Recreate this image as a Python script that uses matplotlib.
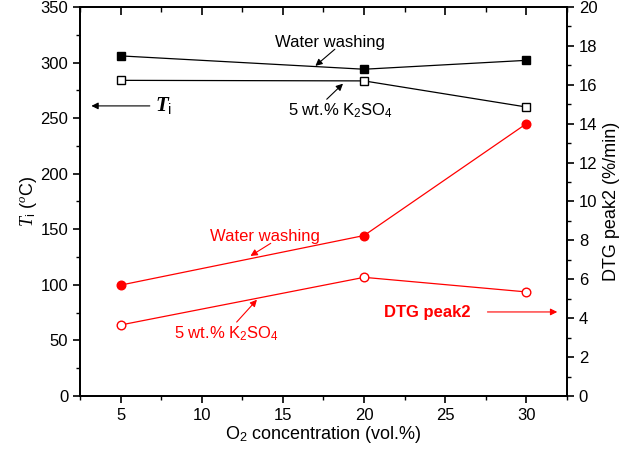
import matplotlib.pyplot as plt
from matplotlib.ticker import MultipleLocator

plt.rcParams['font.family'] = ['Liberation Sans', 'DejaVu Sans']
plt.rcParams['mathtext.fontset'] = 'custom'
plt.rcParams['mathtext.rm'] = 'Liberation Sans'
plt.rcParams['mathtext.it'] = 'Liberation Serif:italic'
plt.rcParams['mathtext.bf'] = 'Liberation Serif:bold:italic'

# data
o2 = [5, 20, 30]
ti_water = [306, 294, 302]
ti_k2so4 = [284, 283.5, 260]
dtg_water = [5.7, 8.25, 14.0]
dtg_k2so4 = [3.65, 6.1, 5.35]

fig = plt.figure(figsize=(6.38, 4.54), dpi=100)
ax = fig.add_axes([0.1254, 0.1278, 0.7633, 0.8568])
ax2 = ax.twinx()

ax.plot(o2, ti_water, color='black', lw=0.9, marker='s', ms=5.8,
        mfc='black', mec='black')
ax.plot(o2, ti_k2so4, color='black', lw=0.9, marker='s', ms=5.8,
        mfc='white', mec='black', mew=1.0)
ax2.plot(o2, dtg_water, color='red', lw=0.9, marker='o', ms=6.2,
         mfc='red', mec='red')
ax2.plot(o2, dtg_k2so4, color='red', lw=0.9, marker='o', ms=6.2,
         mfc='white', mec='red', mew=1.0)

ax.set_xlim(2.5, 32.5)
ax.set_ylim(0, 350)
ax2.set_ylim(0, 20)

ax.xaxis.set_major_locator(MultipleLocator(5))
ax.xaxis.set_minor_locator(MultipleLocator(2.5))
ax.yaxis.set_major_locator(MultipleLocator(50))
ax.yaxis.set_minor_locator(MultipleLocator(25))
ax2.yaxis.set_major_locator(MultipleLocator(2))
ax2.yaxis.set_minor_locator(MultipleLocator(1))

for a in (ax, ax2):
    a.tick_params(which='both', direction='out')
    a.tick_params(which='major', length=5, width=1.2, labelsize=12)
    a.tick_params(which='minor', length=3, width=1.0)
    for s in a.spines.values():
        s.set_linewidth(1.3)

# top ticks pointing inward, from a separate top axis drawn above the rest
ax3 = fig.add_axes(ax.get_position(), frameon=False)
ax3.set_zorder(10)
ax3.set_xlim(2.5, 32.5)
ax3.xaxis.tick_top()
ax3.set_yticks([])
ax3.xaxis.set_major_locator(MultipleLocator(5))
ax3.xaxis.set_minor_locator(MultipleLocator(2.5))
ax3.tick_params(axis='x', which='both', direction='in', labeltop=False,
                color='black')
ax3.tick_params(axis='x', which='major', length=6, width=1.2)
ax3.tick_params(axis='x', which='minor', length=3.5, width=1.0)

ax.set_xlabel('O$_2$ concentration (vol.%)', fontsize=13, labelpad=1)
ax.set_ylabel(r'$\mathit{T}_\mathrm{i}$ ($^o$C)', fontsize=13, labelpad=1)
ax2.set_ylabel('DTG peak2 (%/min)', fontsize=13, labelpad=4)


def arrow(a, tail, head, color):
    a.annotate('', xy=head, xytext=tail,
               arrowprops=dict(arrowstyle='-|>', color=color, lw=0.8,
                               mutation_scale=10, shrinkA=0, shrinkB=0))


# black labels (left axis)
ax.text(17.9, 318.5, 'Water washing', fontsize=12, ha='center', va='center')
arrow(ax, (18.2, 312), (17.0, 297), 'black')
ax.text(18.55, 257, '5 wt.% K$_2$SO$_4$', fontsize=12, ha='center', va='center')
arrow(ax, (17.7, 267), (18.7, 281), 'black')
ax.text(7.65, 261, r'$\mathbf{T}_\mathrm{i}$', fontsize=15, ha='center', va='center')
arrow(ax, (6.8, 261), (3.2, 261), 'black')

# red labels (right axis)
ax2.text(13.9, 8.2, 'Water washing', fontsize=12, color='red',
         ha='center', va='center')
arrow(ax2, (14.25, 7.85), (13.0, 7.2), 'red')
ax2.text(11.5, 3.2, '5 wt.% K$_2$SO$_4$', fontsize=12, color='red',
         ha='center', va='center')
arrow(ax2, (12.15, 3.8), (13.4, 4.95), 'red')
ax2.text(23.9, 4.27, 'DTG peak2', fontsize=12, color='red', fontweight='bold',
         ha='center', va='center')
arrow(ax2, (27.6, 4.32), (31.9, 4.32), 'red')

fig.savefig('out.png', dpi=100)
